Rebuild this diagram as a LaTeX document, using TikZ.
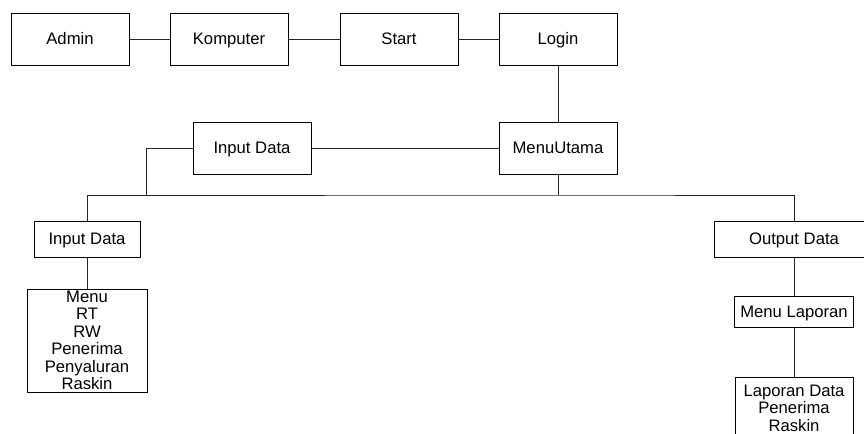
\documentclass[tikz,border=0pt]{standalone}
\usepackage{fontspec}
\setmainfont{Liberation Sans}
\usepackage{tikz}
\usetikzlibrary{calc}
\tikzset{
	kotak/.style={draw, line width=0.6pt, inner sep=1pt, align=center, font=\fontsize{12.5}{13.1}\selectfont},
	satubaris/.style={kotak, text height=9pt, text depth=0pt},
	besar/.style={satubaris, minimum width=88.5pt, minimum height=39pt},
	garis/.style={line width=0.6pt, color=black!85}
}

\begin{document}
\begin{tikzpicture}[x=0.75pt, y=-0.75pt]
		%%%%% START %%%%%
		
		\useasboundingbox (0, 0) rectangle (864, 434);
		\clip (0, 0) rectangle (864, 434);
		
		\node[besar] (admin) at (70, 39) {Admin};
		\node[besar] (komputer) at (229, 39) {Komputer};
		\node[besar] (start) at (399, 39) {Start};
		\node[besar] (login) at (558, 39) {Login};
		
		\node[besar] (menuutama) at (558, 148) {MenuUtama};
		\node[besar] (inputatas) at (252, 148) {Input Data};
		
		\node[satubaris, minimum width=79.5pt, minimum height=27pt] (inputkiri) at (87, 239) {Input Data};
		\node[kotak, minimum width=90pt, minimum height=77.25pt, inner sep=0pt] (menu) at (87, 340.5) {Menu\\RT\\RW\\Penerima\\Penyaluran\\Raskin};
		
		\node[satubaris, minimum width=120pt, minimum height=27pt] (output) at (794, 239) {Output Data};
		\node[satubaris, minimum width=89.25pt, minimum height=23.25pt] (menulaporan) at (794, 311.5) {Menu Laporan};
		\node[kotak, minimum width=88.5pt, minimum height=46.5pt, inner sep=0pt] (laporan) at (794, 408) {Laporan Data\\Penerima\\Raskin};
		
		\coordinate (cabang) at (558, 195);
		\coordinate (belok) at (146, 195);
		
		\draw[garis] (admin) -- (komputer);
		\draw[garis] (komputer) -- (start);
		\draw[garis] (start) -- (login);
		\draw[garis] (login) -- (menuutama);
		\draw[garis] (inputatas) -- (menuutama);
		\draw[garis] (inputatas.west) -| (belok);
		\draw[garis] (menuutama) -- (cabang);
		\draw[garis] (inputkiri.north) |- (cabang) -| (output.north);
		\draw[garis] (inputkiri) -- (menu);
		\draw[garis] (output) -- (menulaporan);
		\draw[garis] (menulaporan) -- (laporan);
		
		%%%%% END %%%%%
	\end{tikzpicture}
\end{document}
